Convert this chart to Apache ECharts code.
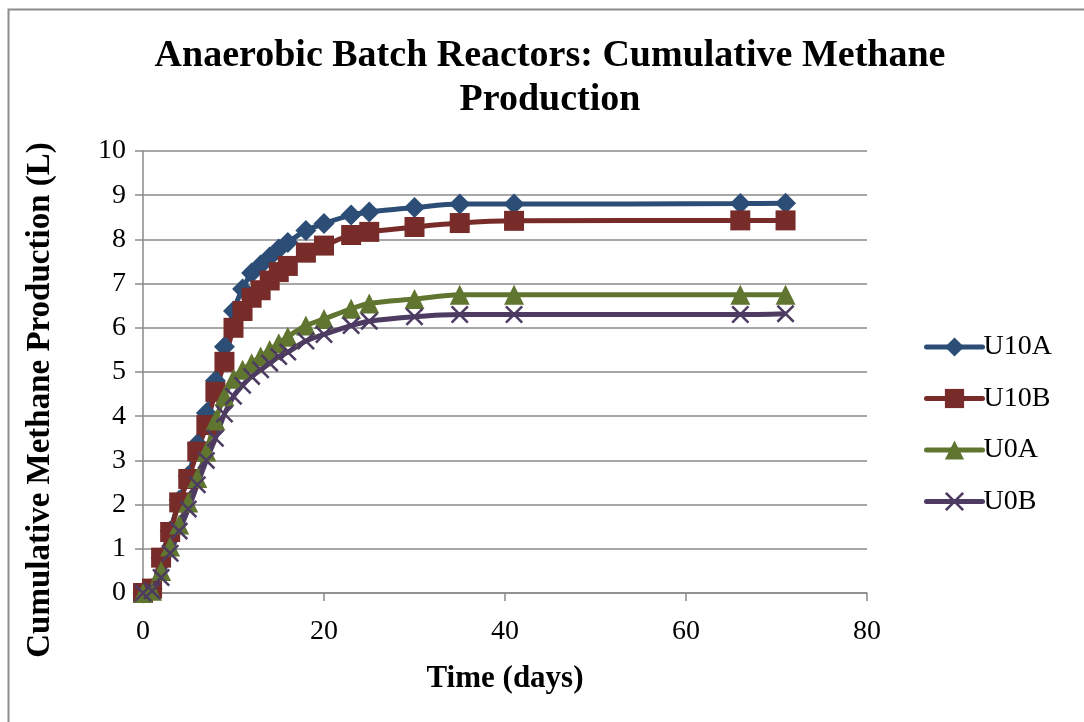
<!DOCTYPE html>
<html>
<head>
<meta charset="utf-8">
<script src="https://cdn.jsdelivr.net/npm/echarts@6/dist/echarts.min.js"></script>
<style>
  html, body { margin: 0; padding: 0; background: #fff; }
  #chart { width: 1084px; height: 722px; }
</style>
</head>
<body>
<div id="chart"></div>
<script>
// Sampling days
const days = [0, 1, 2, 3, 4, 5, 6, 7, 8, 9, 10, 11, 12, 13, 14, 15, 16, 18, 20, 23, 25, 30, 35, 41, 66, 71];

// Cumulative methane production (L) per reactor
const u10a = [0, 0.1, 0.8, 1.4, 2.1, 2.65, 3.37, 4.07, 4.8, 5.57, 6.38, 6.88, 7.24, 7.42, 7.6, 7.78, 7.93, 8.2, 8.36, 8.55, 8.62, 8.72, 8.8, 8.8, 8.81, 8.82];
const u10b = [0, 0.1, 0.8, 1.38, 2.05, 2.58, 3.2, 3.8, 4.55, 5.23, 6.0, 6.38, 6.68, 6.85, 7.07, 7.26, 7.4, 7.7, 7.86, 8.1, 8.17, 8.28, 8.37, 8.42, 8.43, 8.43];
const u0a = [0, 0.05, 0.5, 1.05, 1.55, 2.05, 2.6, 3.2, 3.9, 4.45, 4.85, 5.05, 5.2, 5.35, 5.5, 5.65, 5.8, 6.05, 6.2, 6.43, 6.55, 6.65, 6.75, 6.75, 6.75, 6.75];
const u0b = [0, 0.05, 0.35, 0.9, 1.4, 1.9, 2.45, 3.0, 3.5, 4.05, 4.45, 4.7, 4.9, 5.05, 5.2, 5.35, 5.45, 5.7, 5.85, 6.05, 6.15, 6.25, 6.3, 6.3, 6.3, 6.32];

const seriesNames = ['U10A', 'U10B', 'U0A', 'U0B'];
const seriesValues = [u10a, u10b, u0a, u0b];
const colors = ['#2C4D75', '#772C2A', '#5F7530', '#4D3B62'];
const symbols = [
  'diamond',
  'rect',
  'triangle',
  'path://M0,1 L1,0 L10,9 L9,10 Z M9,0 L10,1 L1,10 L0,9 Z'
];
const symbolSizes = [21, 20, 20, 18];

const serif = '"Liberation Serif", "Times New Roman", serif';
const gridColor = '#8a8a8a';

const chart = echarts.init(document.getElementById('chart'), null, { renderer: 'canvas' });

const series = seriesNames.map((name, i) => ({
  name: name,
  type: 'line',
  data: days.map((d, j) => [d, seriesValues[i][j]]),
  smooth: 0.3,
  symbol: symbols[i],
  symbolSize: symbolSizes[i],
  showAllSymbol: true,
  lineStyle: { color: colors[i], width: 5 },
  itemStyle: { color: colors[i] },
  emphasis: { disabled: true }
}));

chart.setOption({
  animation: false,
  backgroundColor: '#ffffff',
  color: colors,
  title: {
    text: 'Anaerobic Batch Reactors: Cumulative Methane\nProduction',
    left: 545,
    top: 29,
    textAlign: 'center',
    textStyle: {
      fontFamily: serif,
      fontWeight: 'bold',
      fontSize: 38,
      lineHeight: 44,
      color: '#000'
    }
  },
  legend: {
    orient: 'vertical',
    left: 919,
    top: 328,
    itemWidth: 56,
    itemHeight: 24,
    itemGap: 23.5,
    data: seriesNames,
    lineStyle: { width: 5, cap: 'round' },
    textStyle: { fontFamily: serif, fontSize: 28, color: '#000', padding: [0, 0, 0, -4] }
  },
  grid: { left: 143, right: 217, top: 151, bottom: 129, containLabel: false },
  xAxis: {
    type: 'value',
    min: 0,
    max: 80,
    interval: 20,
    name: 'Time (days)',
    nameLocation: 'middle',
    nameGap: 70,
    nameTextStyle: { fontFamily: serif, fontWeight: 'bold', fontSize: 31, color: '#000' },
    axisLine: { show: true, lineStyle: { color: gridColor, width: 1.5 } },
    axisTick: { show: true, inside: false, length: 8, lineStyle: { color: gridColor, width: 1.5 } },
    axisLabel: { margin: 25, fontFamily: serif, fontSize: 28, color: '#000' },
    splitLine: { show: false }
  },
  yAxis: {
    type: 'value',
    min: 0,
    max: 10,
    interval: 1,
    axisLine: { show: true, lineStyle: { color: gridColor, width: 1.5 } },
    axisTick: { show: true, inside: false, length: 8, lineStyle: { color: gridColor, width: 1.5 } },
    axisLabel: { margin: 17, fontFamily: serif, fontSize: 28, color: '#000' },
    splitLine: { show: true, lineStyle: { color: gridColor, width: 1.5 } }
  },
  graphic: [
    {
      type: 'rect',
      left: 6,
      top: 7,
      shape: { width: 1200, height: 1000 },
      style: { fill: 'none', stroke: '#8c8c8c', lineWidth: 2 },
      silent: true,
      z: -1
    },
    {
      type: 'text',
      x: 40,
      y: 400,
      rotation: Math.PI / 2,
      style: {
        text: 'Cumulative Methane Production (L)',
        fontFamily: serif,
        fontWeight: 'bold',
        fontSize: 33,
        fill: '#000',
        align: 'center',
        verticalAlign: 'middle'
      },
      silent: true
    }
  ],
  series: series
});
</script>
</body>
</html>
